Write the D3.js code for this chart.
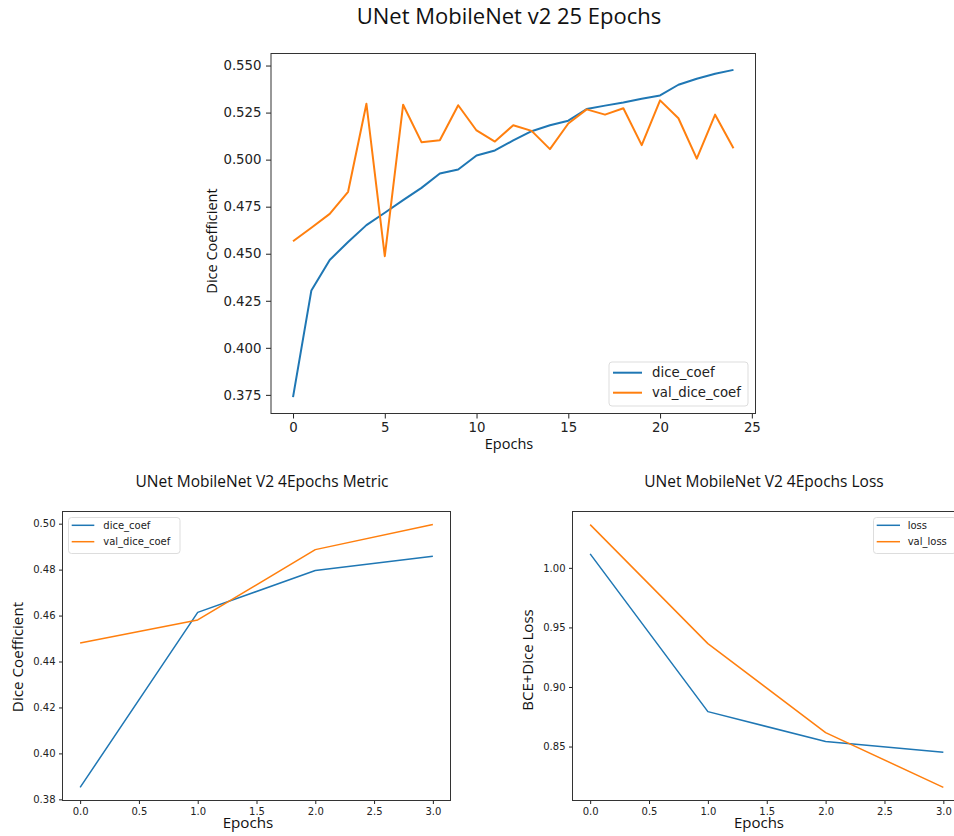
<!DOCTYPE html>
<html lang="en">
<head>
<meta charset="UTF-8">
<title>UNet MobileNet v2 training curves</title>
<script src="https://d3js.org/d3.v7.min.js"></script>
<style>
    body { margin: 0; background: #fff; }
    svg { display: block; }
    .tick text { font-family: "DejaVu Sans", sans-serif; fill: #222; }
    .lbl { font-family: "Open Sans", sans-serif; fill: #111; }
</style>
</head>
<body>
<svg id="chart" width="954" height="836"></svg>
<script>
// 25 epoch run
const epochs25 = d3.range(25);
const diceCoef25 = [0.3738, 0.4305, 0.4467, 0.4562, 0.4652, 0.4718, 0.4785, 0.4850, 0.4926, 0.4948,
    0.5022, 0.5049, 0.5102, 0.5151, 0.5183, 0.5207, 0.5269, 0.5287, 0.5304, 0.5324,
    0.5341, 0.5398, 0.5430, 0.5456, 0.5477];
const valDiceCoef25 = [0.4566, 0.4638, 0.4712, 0.4829, 0.5297, 0.4487, 0.5292, 0.5093, 0.5103, 0.5289,
    0.5155, 0.5096, 0.5183, 0.5153, 0.5056, 0.5192, 0.5267, 0.5239, 0.5273, 0.5077,
    0.5315, 0.5220, 0.5005, 0.5239, 0.5061];

// 4 epoch run
const epochs4 = [0, 1, 2, 3];
const diceCoef4 = [0.3852, 0.4614, 0.4796, 0.4858];
const valDiceCoef4 = [0.4481, 0.4581, 0.4887, 0.4996];
const loss4 = [1.0117, 0.8793, 0.8542, 0.8452];
const valLoss4 = [1.0363, 0.9364, 0.8617, 0.8157];

// ticks
const xTicks25 = [0, 5, 10, 15, 20, 25];
const yTicks25 = [0.375, 0.400, 0.425, 0.450, 0.475, 0.500, 0.525, 0.550];
const xTicks4 = [0, 0.5, 1, 1.5, 2, 2.5, 3];
const yTicksMetric = [0.38, 0.40, 0.42, 0.44, 0.46, 0.48, 0.50];
const yTicksLoss = [0.85, 0.90, 0.95, 1.00];

const svg = d3.select("#chart");
const blue = "#1f77b4", orange = "#ff7f0e";

function panel(p) {
    const x = d3.scaleLinear().domain(p.xDomain).range([p.left, p.right]);
    const y = d3.scaleLinear().domain(p.yDomain).range([p.bottom, p.top]);
    const g = svg.append("g");

    const xAxis = d3.axisBottom(x).tickValues(p.xTicks).tickFormat(d3.format(p.xFmt))
        .tickSize(p.tick).tickPadding(p.pad);
    const yAxis = d3.axisLeft(y).tickValues(p.yTicks).tickFormat(d3.format(p.yFmt))
        .tickSize(p.tick).tickPadding(p.pad);

    g.append("g").attr("transform", `translate(0,${p.bottom})`).call(xAxis)
        .call(a => a.select(".domain").remove())
        .call(a => a.selectAll("text").style("font-size", p.tickFont + "px"))
        .call(a => a.selectAll("line").attr("stroke", "#222"));
    g.append("g").attr("transform", `translate(${p.left},0)`).call(yAxis)
        .call(a => a.select(".domain").remove())
        .call(a => a.selectAll("text").style("font-size", p.tickFont + "px"))
        .call(a => a.selectAll("line").attr("stroke", "#222"));

    const line = d3.line().x((d, i) => x(p.xs[i])).y(d => y(d));
    p.series.forEach(s => {
        g.append("path").datum(s.values)
            .attr("fill", "none").attr("stroke", s.color)
            .attr("stroke-width", p.lw).attr("stroke-linejoin", "round")
            .attr("d", line);
    });

    g.append("rect")
        .attr("x", p.left).attr("y", p.top)
        .attr("width", p.right - p.left).attr("height", p.bottom - p.top)
        .attr("fill", "none").attr("stroke", "#333").attr("stroke-width", 1);

    // legend
    const L = p.legend;
    g.append("rect")
        .attr("x", L.x0).attr("y", L.y0)
        .attr("width", L.x1 - L.x0).attr("height", L.y1 - L.y0)
        .attr("rx", 3)
        .attr("fill", "#fff").attr("fill-opacity", 0.8)
        .attr("stroke", "#ddd");
    p.series.forEach((s, i) => {
        const yy = L.rows[i];
        g.append("line")
            .attr("x1", L.lx0).attr("x2", L.lx1).attr("y1", yy).attr("y2", yy)
            .attr("stroke", s.color).attr("stroke-width", p.lw);
        g.append("text")
            .attr("x", L.tx).attr("y", yy).attr("dy", "0.35em")
            .style("font-family", "DejaVu Sans, sans-serif")
            .style("font-size", p.tickFont + "px").attr("fill", "#222")
            .text(s.name);
    });

    // labels
    g.append("text").attr("class", "lbl")
        .attr("x", p.xLabel[0]).attr("y", p.xLabel[1]).attr("text-anchor", "middle")
        .attr("dy", "0.35em").style("font-size", p.labelFont + "px").text("Epochs");
    g.append("text").attr("class", "lbl")
        .attr("transform", `translate(${p.yLabel[0]},${p.yLabel[1]}) rotate(-90)`)
        .attr("text-anchor", "middle").attr("dy", "0.35em")
        .style("font-size", p.labelFont + "px").text(p.yTitle);
    g.append("text").attr("class", "lbl")
        .attr("x", p.title[0]).attr("y", p.title[1]).attr("text-anchor", "middle")
        .attr("dy", "0.35em").style("font-size", p.titleFont + "px").text(p.titleText);
}

panel({
    left: 271, right: 755.5, top: 53.5, bottom: 413.5,
    xDomain: [-1.2, 25.2], yDomain: [0.3651, 0.5564],
    xs: epochs25, xTicks: xTicks25, yTicks: yTicks25, xFmt: "d", yFmt: ".3f",
    tick: 5, pad: 4.5, tickFont: 13.3, lw: 2,
    series: [
        { name: "dice_coef", values: diceCoef25, color: blue },
        { name: "val_dice_coef", values: valDiceCoef25, color: orange }
    ],
    legend: { x0: 609, x1: 748, y0: 362, y1: 406, rows: [372.7, 392.7], lx0: 613, lx1: 642, tx: 652 },
    xLabel: [509, 444], yLabel: [212, 241], yTitle: "Dice Coefficient", labelFont: 14.5,
    title: [509, 16], titleText: "UNet MobileNet v2 25 Epochs", titleFont: 22
});

panel({
    left: 62.5, right: 450.5, top: 511.5, bottom: 800.5,
    xDomain: [-0.15, 3.15], yDomain: [0.3795, 0.5053],
    xs: epochs4, xTicks: xTicks4, yTicks: yTicksMetric, xFmt: ".1f", yFmt: ".2f",
    tick: 3.5, pad: 3.5, tickFont: 10, lw: 1.5,
    series: [
        { name: "dice_coef", values: diceCoef4, color: blue },
        { name: "val_dice_coef", values: valDiceCoef4, color: orange }
    ],
    legend: { x0: 68.5, x1: 180, y0: 517.5, y1: 553.5, rows: [525.3, 541.7], lx0: 71.7, lx1: 94.3, tx: 103.3 },
    xLabel: [248, 823], yLabel: [18, 657], yTitle: "Dice Coefficient", labelFont: 15.2,
    title: [262, 481.5], titleText: "UNet MobileNet V2 4Epochs Metric", titleFont: 15.5
});

panel({
    left: 572.5, right: 961, top: 511.5, bottom: 800.5,
    xDomain: [-0.15, 3.15], yDomain: [0.8047, 1.0473],
    xs: epochs4, xTicks: xTicks4, yTicks: yTicksLoss, xFmt: ".1f", yFmt: ".2f",
    tick: 3.5, pad: 3.5, tickFont: 10, lw: 1.5,
    series: [
        { name: "loss", values: loss4, color: blue },
        { name: "val_loss", values: valLoss4, color: orange }
    ],
    legend: { x0: 873.5, x1: 956, y0: 517.5, y1: 553.5, rows: [525.3, 541.7], lx0: 876.7, lx1: 900, tx: 907.7 },
    xLabel: [759, 823], yLabel: [528, 660], yTitle: "BCE+Dice Loss", labelFont: 15,
    title: [764, 481.5], titleText: "UNet MobileNet V2 4Epochs Loss", titleFont: 15.5
});
</script>
</body>
</html>
